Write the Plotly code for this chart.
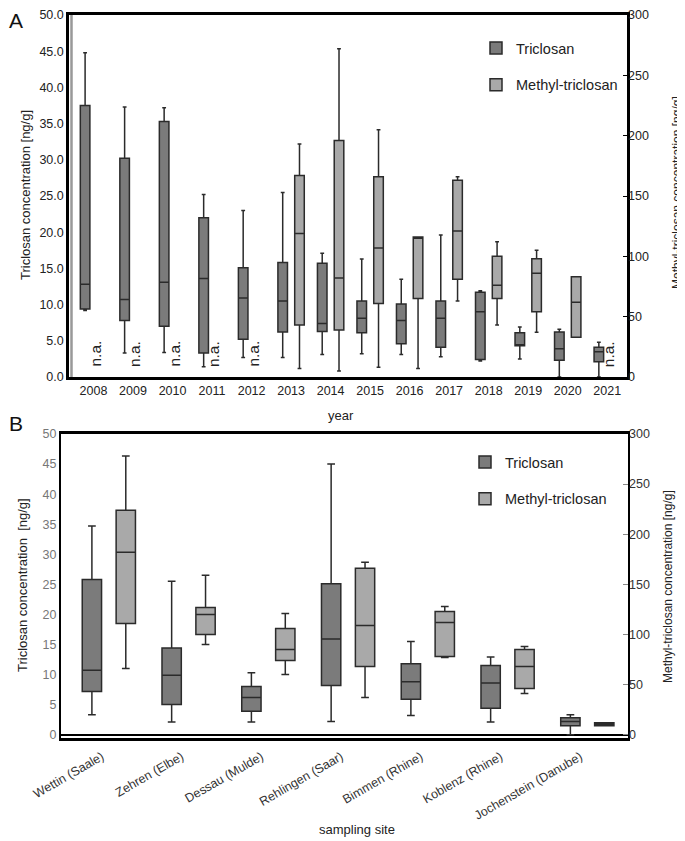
import plotly.graph_objects as go

# Panel A data (Triclosan on left axis, Methyl-triclosan on right axis)
years = ['2008', '2009', '2010', '2011', '2012', '2013', '2014',
         '2015', '2016', '2017', '2018', '2019', '2020', '2021']
tcs_low = [9.2, 3.3, 3.4, 1.4, 2.7, 2.7, 3.1, 3.2, 3.1, 2.8, 2.2, 2.5, 0.0, 0.0]
tcs_q1 = [9.4, 7.8, 7.0, 3.3, 5.2, 6.2, 6.3, 6.1, 4.6, 4.1, 2.4, 4.3, 2.3, 2.1]
tcs_med = [12.8, 10.7, 13.1, 13.6, 10.9, 10.5, 7.4, 8.1, 7.8, 8.1, 9.0, 4.4, 3.9, 3.5]
tcs_q3 = [37.5, 30.2, 35.3, 22.0, 15.1, 15.8, 15.7, 10.5, 10.1, 10.5, 11.7, 6.1, 6.2, 4.1]
tcs_high = [44.8, 37.3, 37.2, 25.2, 23.0, 25.5, 17.1, 16.3, 13.5, 19.6, 11.9, 6.9, 6.6, 4.8]

mtcs_years = ['2013', '2014', '2015', '2016', '2017', '2018', '2019', '2020']
mtcs_low = [7, 5, 8, 7, 63, 43, 37, 33]
mtcs_q1 = [43, 39, 61, 65, 81, 65, 54, 33]
mtcs_med = [119, 82, 107, 115, 121, 76, 86, 62]
mtcs_q3 = [167, 196, 166, 116, 163, 100, 98, 83]
mtcs_high = [193, 272, 205, 116, 166, 112, 105, 83]
na_years = ['2008', '2009', '2010', '2011', '2012', '2021']

# Panel B data
sites = ['Wettin (Saale)', 'Zehren (Elbe)', 'Dessau (Mulde)', 'Rehlingen (Saar)',
         'Bimmen (Rhine)', 'Koblenz (Rhine)', 'Jochenstein (Danube)']
site_tcs_low = [3.3, 2.1, 2.1, 2.2, 3.2, 2.1, 0.0]
site_tcs_q1 = [7.2, 5.0, 3.9, 8.2, 5.9, 4.4, 1.5]
site_tcs_med = [10.7, 9.9, 6.2, 15.9, 8.8, 8.6, 2.2]
site_tcs_q3 = [25.8, 14.4, 8.0, 25.1, 11.8, 11.5, 2.8]
site_tcs_high = [34.7, 25.5, 10.3, 45.0, 15.5, 12.9, 3.3]

site_mtcs_low = [66, 90, 60, 37, 77, 41, 9]
site_mtcs_q1 = [111, 100, 74, 68, 78, 46, 9]
site_mtcs_med = [182, 120, 85, 109, 112, 68, 10.5]
site_mtcs_q3 = [224, 127, 106, 166, 123, 85, 12]
site_mtcs_high = [278, 159, 121, 172, 128, 88, 12]

TCS_FILL = '#7b7b7b'
MTCS_FILL = '#a9a9a9'
EDGE = '#2b2b2b'
FONT = 'Liberation Sans, Arial, sans-serif'

fig = go.Figure()


def add_box(x, low, q1, med, q3, high, name, fill, xaxis, yaxis, legend, group):
    fig.add_trace(go.Box(
        x=x, lowerfence=low, q1=q1, median=med, q3=q3, upperfence=high,
        name=name, fillcolor=fill, line=dict(color=EDGE, width=1.5),
        whiskerwidth=0.4, boxpoints=False, xaxis=xaxis, yaxis=yaxis,
        offsetgroup=group, alignmentgroup='a' + xaxis, legend=legend,
        legendgroup=name + legend))


add_box(years, tcs_low, tcs_q1, tcs_med, tcs_q3, tcs_high, 'Triclosan',
        TCS_FILL, 'x', 'y', 'legend', 'tcs')
add_box(mtcs_years, mtcs_low, mtcs_q1, mtcs_med, mtcs_q3, mtcs_high, 'Methyl-triclosan',
        MTCS_FILL, 'x', 'y2', 'legend', 'mtcs')
add_box(sites, site_tcs_low, site_tcs_q1, site_tcs_med, site_tcs_q3, site_tcs_high,
        'Triclosan', TCS_FILL, 'x2', 'y3', 'legend2', 'tcs')
add_box(sites, site_mtcs_low, site_mtcs_q1, site_mtcs_med, site_mtcs_q3, site_mtcs_high,
        'Methyl-triclosan', MTCS_FILL, 'x2', 'y4', 'legend2', 'mtcs')

W, H = 685, 841
PAGE_PAD = 8  # the page body adds an 8px margin around the figure


def px_x(p):
    return (p - PAGE_PAD) / W


def px_y(p):
    return 1 - (p - PAGE_PAD) / H


tick_font = dict(family=FONT, size=12.5, color='#222')
frame = dict(showline=True, linecolor='black', linewidth=2.5, mirror=True,
             showgrid=False, zeroline=False, automargin=False)
legend_font = dict(family=FONT, size=14.5, color='#222')

fig.update_layout(
    width=W, height=H, margin=dict(l=0, r=0, t=0, b=0),
    paper_bgcolor='white', plot_bgcolor='white',
    boxmode='group', boxgap=0.15, boxgroupgap=0.43,
    font=dict(family=FONT, color='#222'),
    xaxis=dict(domain=[px_x(69), px_x(627)], anchor='y', type='category',
               categoryarray=years, range=[-0.62, 13.5], ticks='',
               tickfont=tick_font, **frame),
    yaxis=dict(domain=[px_y(377), px_y(15)], anchor='x', range=[0, 50],
               dtick=5, tickformat='.1f', ticks='', tickfont=tick_font, **frame),
    yaxis2=dict(overlaying='y', side='right', anchor='x', range=[0, 300], dtick=50,
                ticks='inside', ticklen=4, tickcolor='black', showline=False,
                showgrid=False, zeroline=False, automargin=False, tickfont=tick_font),
    xaxis2=dict(domain=[px_x(61), px_x(628)], anchor='y3', type='category',
                categoryarray=sites, range=[-0.6, 6.51], ticks='', tickangle=-30,
                ticklabelshift=-7, ticklabelstandoff=4,
                tickfont=dict(family=FONT, size=12.5, color='#333'), **frame),
    yaxis3=dict(domain=[px_y(738), px_y(434)], anchor='x2', range=[-0.55, 50],
                dtick=5, ticks='', tickfont=dict(family=FONT, size=12.5, color='#777'),
                showline=True, linecolor='black', linewidth=2, mirror=True,
                showgrid=False, zeroline=True, zerolinecolor='black', zerolinewidth=1.5,
                automargin=False),
    yaxis4=dict(overlaying='y3', side='right', anchor='x2', range=[-3.3, 300], dtick=50,
                ticks='inside', ticklen=5, tickcolor='#888', showline=False,
                showgrid=False, zeroline=False, automargin=False,
                tickfont=dict(family=FONT, size=12.5, color='#333')),
    legend=dict(x=px_x(476), y=px_y(32), xanchor='left', yanchor='top',
                bgcolor='rgba(0,0,0,0)', font=legend_font, tracegroupgap=15, itemwidth=30),
    legend2=dict(x=px_x(465), y=px_y(446), xanchor='left', yanchor='top',
                 bgcolor='rgba(0,0,0,0)', font=legend_font, tracegroupgap=15, itemwidth=30),
)

# grey inner edge next to the left axis of panel A
fig.add_shape(type='line', xref='paper', yref='paper', x0=px_x(71.5), x1=px_x(71.5),
              y0=px_y(377), y1=px_y(15), line=dict(color='#999', width=2.5))

# n.a. labels where Methyl-triclosan was not analysed
for yr in na_years:
    fig.add_annotation(x=years.index(yr), y=0, xref='x', yref='y', text='n.a.',
                       showarrow=False, textangle=-90, xanchor='center', yanchor='bottom',
                       xshift=2, yshift=8, font=dict(family=FONT, size=15.5, color='#222'))

# panel letters, kept inside the figure edge
for letter, yp in [('A', 8), ('B', 411)]:
    fig.add_annotation(x=0, y=px_y(yp), xref='paper', yref='paper', text=letter,
                       showarrow=False, xanchor='left', yanchor='top', borderpad=0,
                       font=dict(family=FONT, size=21, color='#111'))

titles = [
    ('year', 341, 415, 0, 13),
    ('sampling site', 357, 829, 0, 13),
    ('Triclosan concentration [ng/g]', 25, 195, -90, 13),
    ('Methyl-triclosan concentration [ng/g]', 677, 193, -90, 12),
    ('Triclosan concentration  [ng/g]', 22, 585, -90, 13),
    ('Methyl-triclosan concentration [ng/g]', 668, 587, -90, 12),
]
for text, xp, yp, ang, size in titles:
    fig.add_annotation(x=px_x(xp), y=px_y(yp), xref='paper', yref='paper', text=text,
                       showarrow=False, textangle=ang, xanchor='center', yanchor='middle',
                       font=dict(family=FONT, size=size, color='#222'))

fig.write_html("out.html")
